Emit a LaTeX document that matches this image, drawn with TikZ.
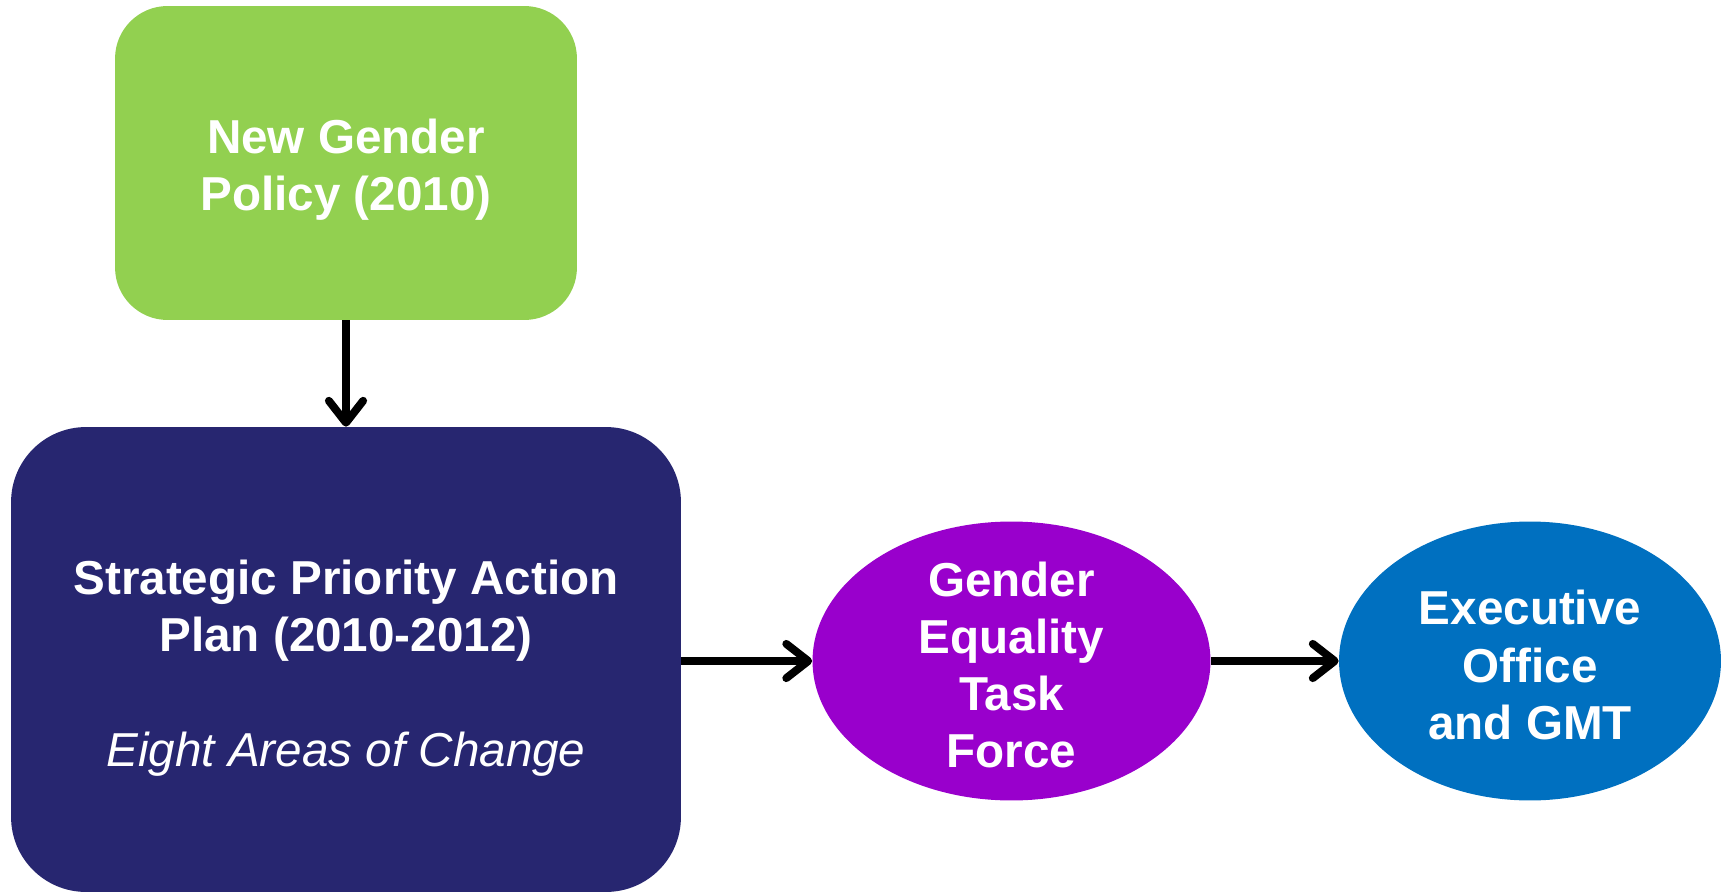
\documentclass[tikz,border=0pt]{standalone}
\usepackage{fontspec}
\setmainfont{Liberation Sans}
\usetikzlibrary{shapes.geometric,arrows.meta}
\definecolor{policygreen}{RGB}{146,208,80}
\definecolor{plannavy}{RGB}{39,38,112}
\definecolor{forcepurple}{RGB}{153,0,204}
\definecolor{officeblue}{RGB}{0,112,192}
\tikzset{
	boxtext/.style = {align = center, text = white, font = \bfseries\fontsize{27.1}{32.6}\selectfont},
	box/.style = {rectangle, inner sep = 0pt},
	oval/.style = {ellipse, inner sep = 0pt},
	flow/.style = {line width = 4.5pt, -{Straight Barb[length = 12.5pt, width = 19.5pt, round]}},
}
\begin{document}
\begin{tikzpicture}[x = 0.02cm, y = -0.02cm]
	\useasboundingbox (0,0) rectangle (1727,892);
	%boxes
	\node (policy) [box, fill = policygreen, rounded corners = 1.05cm, minimum width = 9.24cm, minimum height = 6.28cm] at (346,163) {};
	\node (policytext) [boxtext, yshift = -4pt] at (policy.center) {New Gender\\Policy (2010)};
	\node (plan) [box, fill = plannavy, rounded corners = 1.5cm, minimum width = 13.4cm, minimum height = 9.3cm] at (346,659.5) {};
	\node (plantext) [boxtext, yshift = -5pt] at (plan.center)
	{Strategic Priority Action\\Plan (2010-2012)\\[32.6pt]{\mdseries\itshape Eight Areas of Change}};
	
	%ellipses
	\node (force) [oval, fill = forcepurple, minimum width = 7.96cm, minimum height = 5.58cm] at (1011.5,661) {};
	\node (forcetext) [boxtext, yshift = -2.3pt] at (force.center) {Gender\\Equality\\Task\\Force};
	\node (office) [oval, fill = officeblue, minimum width = 7.64cm, minimum height = 5.58cm] at (1530,661) {};
	\node (officetext) [boxtext, yshift = -2.3pt] at (office.center) {Executive\\Office\\and GMT};
	
	%arrows
	\draw [flow] (policy.south) -- (plan.north);
	\draw [flow] (plan.east |- force.west) -- (force.west);
	\draw [flow] (force.east) -- (office.west);
\end{tikzpicture}
\end{document}
